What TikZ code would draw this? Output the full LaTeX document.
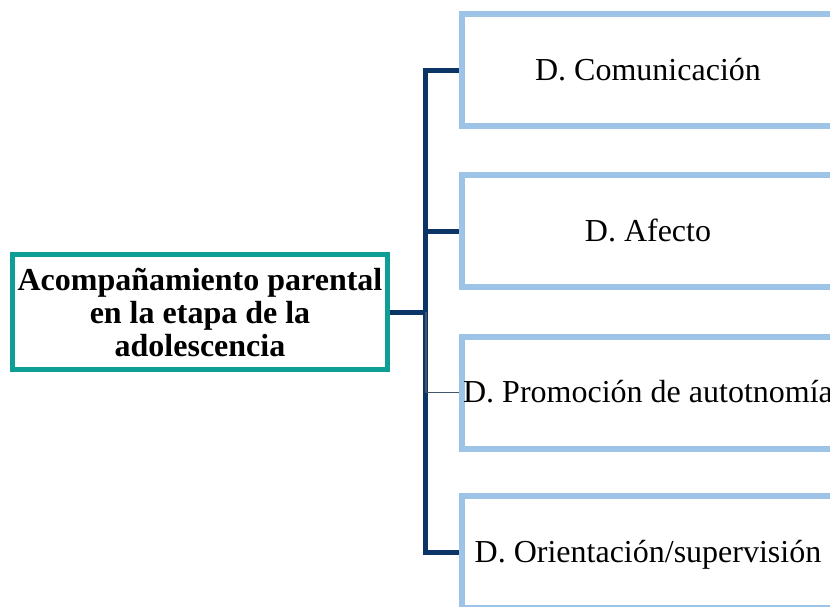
\documentclass[tikz,border=0pt]{standalone}
\usepackage{fontspec}
\setmainfont{Liberation Serif}
\definecolor{tealbox}{HTML}{0E9E96}
\definecolor{navyline}{HTML}{0B3467}
\definecolor{lightblue}{HTML}{9DC3E6}
\definecolor{greyline}{HTML}{44546A}
\begin{document}
\begin{tikzpicture}[x=1pt,y=-1pt,
  mainbox/.style={draw=tealbox, line width=5pt, rectangle, inner sep=0pt,
    minimum width=375pt, minimum height=115pt, align=center,
    font=\fontsize{32}{33}\selectfont\bfseries},
  childbox/.style={draw=lightblue, line width=6pt, rectangle, inner sep=0pt,
    minimum width=372pt, minimum height=112pt},
  lbl/.style={inner sep=0pt, anchor=base, font=\fontsize{32}{36}\selectfont},
  conn/.style={draw=navyline, line width=5pt},
  thinconn/.style={draw=greyline, line width=1.6pt}]
\useasboundingbox (0,0) rectangle (830,606);
\clip (0,0) rectangle (830,606);
\fill[white] (0,0) rectangle (830,606);

\node[mainbox] (main) at (200,312) {Acompañamiento parental\\en la etapa de la\\adolescencia};

\node[childbox] (c1) at (648,70) {};
\node[childbox] (c2) at (648,231) {};
\node[childbox] (c3) at (648,392.5) {};
\node[childbox] (c4) at (648,552) {};

\coordinate (j) at (425,312);
\draw[conn] (main.east) -- (j);
\draw[conn] (c1.west) -| (j);
\draw[conn] (c2.west) -| (j);
\draw[conn] (c4.west) -| (j);
\draw[thinconn] ([xshift=1pt]j) |- (c3.west);

\node[childbox] at (c1) {};
\node[childbox] at (c2) {};
\node[childbox] at (c3) {};
\node[childbox] at (c4) {};

\node[lbl] (t1) at (648,80) {D. Comunicación};
\node[lbl] (t2) at (648,241) {D. Afecto};
\node[lbl] (t3) at (648,402) {D. Promoción de autotnomía};
\node[lbl] (t4) at (648,562) {D. Orientación/supervisión};
\end{tikzpicture}
\end{document}
